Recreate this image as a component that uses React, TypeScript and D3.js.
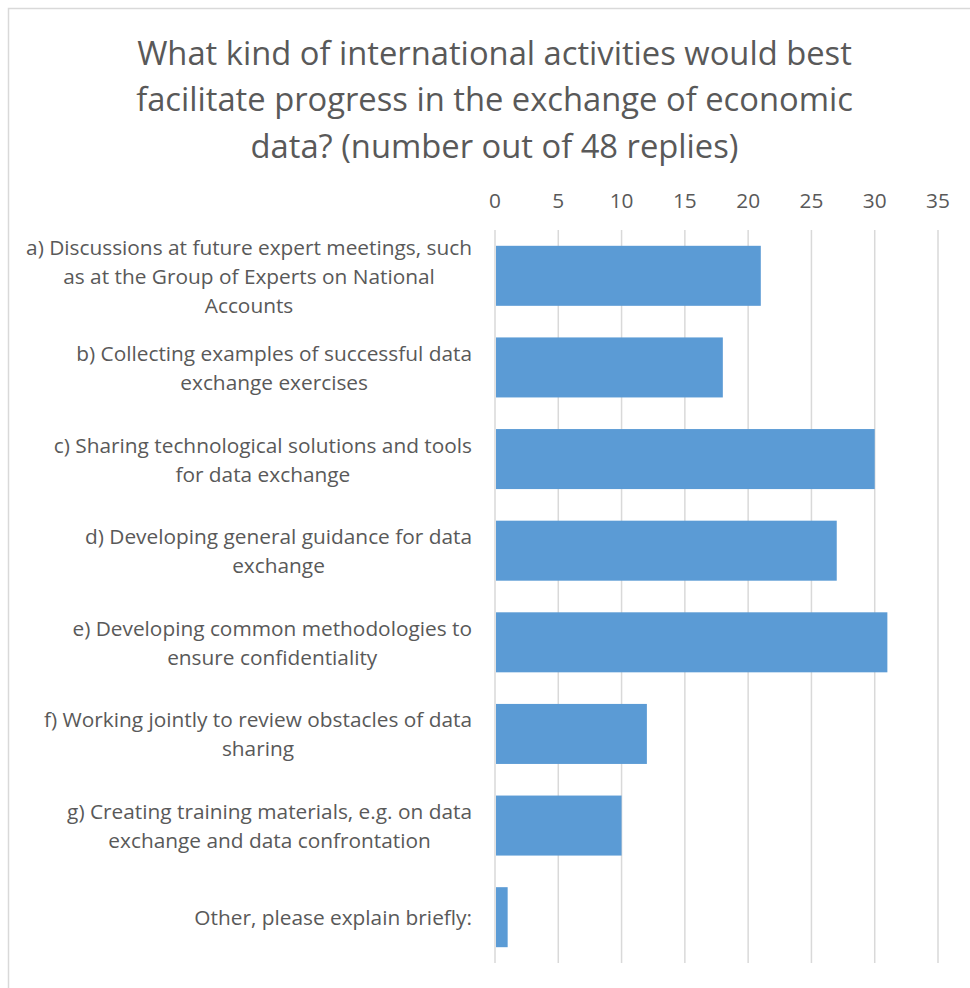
import React, { useEffect, useRef } from "react";
import * as d3 from "d3";

const titleLines = [
  "What kind of international activities would best",
  "facilitate progress in the exchange of economic",
  "data? (number out of 48 replies)",
];
const categories = ["a", "b", "c", "d", "e", "f", "g", "other"];
const categoryLabels: string[][] = [
  ["a) Discussions at future expert meetings, such", "as at the Group of Experts on National", "Accounts"],
  ["b) Collecting examples of successful data", "exchange exercises"],
  ["c) Sharing technological solutions and tools", "for data exchange"],
  ["d) Developing general guidance for data", "exchange"],
  ["e) Developing common methodologies to", "ensure confidentiality"],
  ["f) Working jointly to review obstacles of data", "sharing"],
  ["g) Creating training materials, e.g. on data", "exchange and data confrontation"],
  ["Other, please explain briefly:"],
];
const values = [21, 18, 30, 27, 31, 12, 10, 1];
const tickValues = [0, 5, 10, 15, 20, 25, 30, 35];

const FONT = "'Open Sans', sans-serif";
const TEXT = "#595959";

export default function App() {
  const ref = useRef<SVGSVGElement>(null);
  useEffect(() => {
    const svg = d3.select(ref.current);
    svg.selectAll("*").remove();
    svg.append("rect").attr("x", 8.5).attr("y", 8.5).attr("width", 980).attr("height", 1000)
      .attr("fill", "#fff").attr("stroke", "#D9D9D9").attr("stroke-width", 1.5);

    const x = d3.scaleLinear().domain([0, 35]).range([495, 938]);
    const y = d3.scaleBand<string>().domain(categories).range([230, 963]).paddingInner(0.345).paddingOuter(0.1725);

    // fit font size so the longest line matches target width
    const fit = (text: string, base: number, target: number) => {
      const t = svg.append("text").attr("font-family", FONT).attr("font-size", base).text(text);
      const w = (t.node() as SVGTextElement).getComputedTextLength();
      t.remove();
      return w > 0 ? (base * target) / w : base;
    };
    const titleSize = fit(titleLines[0], 30, 715);
    const labelSize = fit(categoryLabels[0][0], 18, 446);

    titleLines.forEach((t, i) => {
      svg.append("text").attr("x", 494.5).attr("y", 52 + i * 46.5)
        .attr("text-anchor", "middle").attr("dominant-baseline", "central")
        .attr("font-family", FONT).attr("font-size", titleSize).attr("fill", TEXT).text(t);
    });

    svg.append("g").selectAll("line").data(tickValues).join("line")
      .attr("x1", (d) => x(d)).attr("x2", (d) => x(d))
      .attr("y1", 230).attr("y2", 963)
      .attr("stroke", "#D9D9D9").attr("stroke-width", 1.5);

    svg.append("g").selectAll("text").data(tickValues).join("text")
      .attr("x", (d) => x(d)).attr("y", 200)
      .attr("text-anchor", "middle").attr("dominant-baseline", "central")
      .attr("font-family", FONT).attr("font-size", labelSize).attr("fill", TEXT)
      .text((d) => String(d));

    svg.append("g").selectAll("rect").data(values).join("rect")
      .attr("x", x(0) + 1)
      .attr("y", (_, i) => y(categories[i])!)
      .attr("width", (d) => x(d) - x(0) - 1)
      .attr("height", y.bandwidth())
      .attr("fill", "#5B9BD5");

    const labelRight = 472;
    const lineH = 29;
    categoryLabels.forEach((lines, i) => {
      const g = svg.append("g");
      const cy = y(categories[i])! + y.bandwidth() / 2;
      const texts = lines.map((l, j) =>
        g.append("text")
          .attr("y", cy + (j - (lines.length - 1) / 2) * lineH)
          .attr("text-anchor", "middle").attr("dominant-baseline", "central")
          .attr("font-family", FONT).attr("font-size", labelSize).attr("fill", TEXT).text(l)
      );
      const maxW = d3.max(texts, (t) => (t.node() as SVGTextElement).getComputedTextLength()) || 0;
      texts.forEach((t) => t.attr("x", labelRight - maxW / 2));
    });
  }, []);
  return <svg ref={ref} width={970} height={988} style={{ display: "block", position: "absolute", left: 0, top: 0 }} />;
}
